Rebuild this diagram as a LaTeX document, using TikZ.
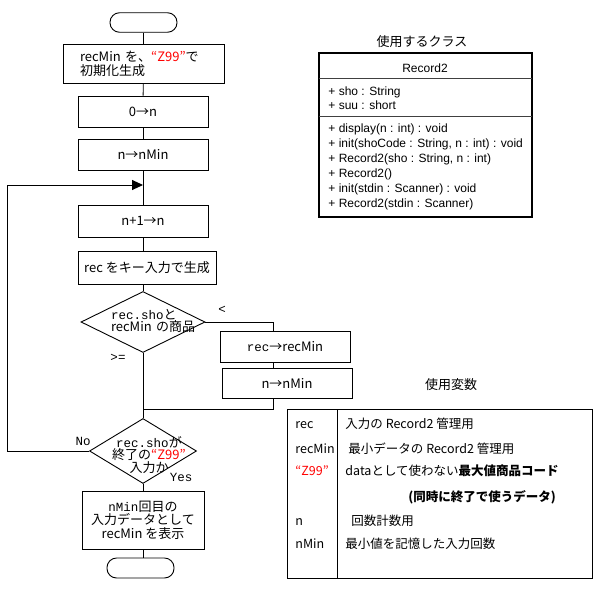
\documentclass[tikz,border=0pt]{standalone}
\usepackage{fontspec}
\setmainfont{Noto Sans CJK JP}
\newfontfamily\classfont{Liberation Sans}
\newfontfamily\courfont{Liberation Mono}
\usepackage{tikz}
\usetikzlibrary{shapes.geometric,arrows.meta}
\definecolor{zred}{RGB}{255,0,0}
\newcommand{\zcode}{\textcolor{zred}{“Z99”}}
\newcommand{\mono}[1]{{\courfont\fontsize{12.5}{13}\selectfont #1}}

\begin{document}
\begin{tikzpicture}[x=1pt, y=-1pt, >={Triangle[length=11pt,width=10pt]}, line width=0.9pt,
  font=\fontsize{13}{14}\selectfont]
\tikzstyle{block} = [draw, rectangle, inner sep=0pt, align=center]
\tikzstyle{startstop} = [draw, rectangle, rounded corners=9.5pt, minimum width=67pt, minimum height=19.5pt]
\tikzstyle{decision} = [draw, diamond, inner sep=0pt]
\tikzstyle{lbl} = [inner sep=0pt]
\tikzstyle{member} = [anchor=base west, inner sep=0pt, font=\classfont\fontsize{12}{14}\selectfont]
\tikzstyle{varrow} = [anchor=base west, inner sep=0pt, font=\fontsize{12.5}{14}\selectfont]

\useasboundingbox (0,0) rectangle (602,589);

    % the flowchart, top to bottom
    \node [startstop] (start) at (143.5,22.5) {};
    \node [block, minimum width=161pt, minimum height=39pt, text width=127pt, align=left] (init) at (143.5,63.5) {recMin を、\zcode で\\初期化生成};
    \node [block, minimum width=130pt, minimum height=31pt] (zero) at (143,111.5) {0→n};
    \node [block, minimum width=130pt, minimum height=31pt] (nmin) at (143,154.5) {n→nMin};
    \coordinate (loop) at (143,185);
    \node [block, minimum width=130pt, minimum height=32pt] (incr) at (143,221) {n+1→n};
    \node [block, minimum width=138pt, minimum height=33pt] (input) at (147,267.5) {rec をキー入力で生成};
    \node [decision, minimum width=124pt, minimum height=61pt] (cmp) at (143,322) {};
    \node [lbl, text width=100pt, align=left, font=\fontsize{13}{12.5}\selectfont] (cmptext) at (161,321) {\mono{rec.sho}と\\recMin の商品};
    \node [block, minimum width=130pt, minimum height=31pt] (setrec) at (285,346.5) {\mono{rec}→recMin};
    \node [block, minimum width=130pt, minimum height=30pt] (setn) at (287,383) {n→nMin};
    \coordinate (branch) at (273,322);
    \coordinate (join) at (143,409);
    \node [decision, minimum width=107pt, minimum height=65pt] (endchk) at (143,451) {};
    \node [lbl, align=center, font=\fontsize{13}{12.5}\selectfont] (endtext) at (149,455) {\mono{rec.sho}が\\終了の\zcode\\入力か};
    \node [block, minimum width=122pt, minimum height=58pt, font=\fontsize{13}{13.5}\selectfont] (show) at (143,520) {\mono{nMin}回目の\\入力データとして\\recMin を表示};
    \node [startstop, minimum height=20pt] (stop) at (140.5,568) {};
    \coordinate (back) at (7,451);

    % branch labels
    \node [lbl] (lt) at (222,310) {\mono{<}};
    \node [lbl] (ge) at (118,358) {\mono{>=}};
    \node [lbl, anchor=east] (no) at (91,441) {\mono{No}};
    \node [lbl] (yes) at (181,477) {\mono{Yes}};

    % connectors
    \draw (start) -- (init);
    \draw (init) -- (zero);
    \draw (zero) -- (nmin);
    \draw (nmin) -- (incr);
    \draw (incr.south) -- (incr.south |- input.north);
    \draw (input.south -| cmp.north) -- (cmp.north);
    \draw (cmp.east) -- (branch) -- (branch |- setrec.north);
    \draw (branch |- setrec.south) -- (branch |- setn.north);
    \draw (branch |- setn.south) -- (branch |- join) -- (join);
    \draw (cmp.south) -- (endchk.north);
    \draw (endchk.south) -- (show.north);
    \draw (show.south) -- (show.south |- stop.north);
    \draw [->] (endchk.west) -- (back) |- (loop);

    % class used
    \node [lbl] (clstitle) at (422,42) {使用するクラス};
    \node [draw, line width=1.8pt, minimum width=213pt, minimum height=164pt, inner sep=0pt] (cls) at (425.5,135) {};
    \draw [line width=0.7pt, black!75] (319,78) -- (532,78);
    \draw [line width=0.7pt, black!75] (319,116) -- (532,116);
    \node [lbl, font=\classfont\fontsize{12}{14}\selectfont] (clsname) at (425,68) {Record2};
    \node [member] at (328,95) {+ sho : String};
    \node [member] at (328,109) {+ suu : short};
    \node [member] at (328,132) {+ display(n : int) : void};
    \node [member] at (328,147) {+ init(shoCode : String, n : int) : void};
    \node [member] at (328,162) {+ Record2(sho : String, n : int)};
    \node [member] at (328,177) {+ Record2()};
    \node [member] at (328,192) {+ init(stdin : Scanner) : void};
    \node [member] at (328,207) {+ Record2(stdin : Scanner)};

    % variables used
    \node [lbl] (vartitle) at (451,385) {使用変数};
    \node [draw, minimum width=305pt, minimum height=169pt, inner sep=0pt] (vars) at (439.5,493.5) {};
    \draw (337,409) -- (337,578);
    \node [varrow] at (295,428) {rec};
    \node [varrow] at (345,428) {入力の Record2 管理用};
    \node [varrow] at (295,453) {recMin};
    \node [varrow] at (348,453) {最小データの Record2 管理用};
    \node [varrow] at (295,475) {\zcode};
    \node [varrow] at (345,475) {dataとして使わない{\bfseries 最大値商品コード}};
    \node [varrow] at (408,501) {\bfseries (同時に終了で使うデータ)};
    \node [varrow] at (295,525) {n};
    \node [varrow] at (351,525) {回数計数用};
    \node [varrow] at (295,548) {nMin};
    \node [varrow] at (345,548) {最小値を記憶した入力回数};

\end{tikzpicture}
\end{document}
